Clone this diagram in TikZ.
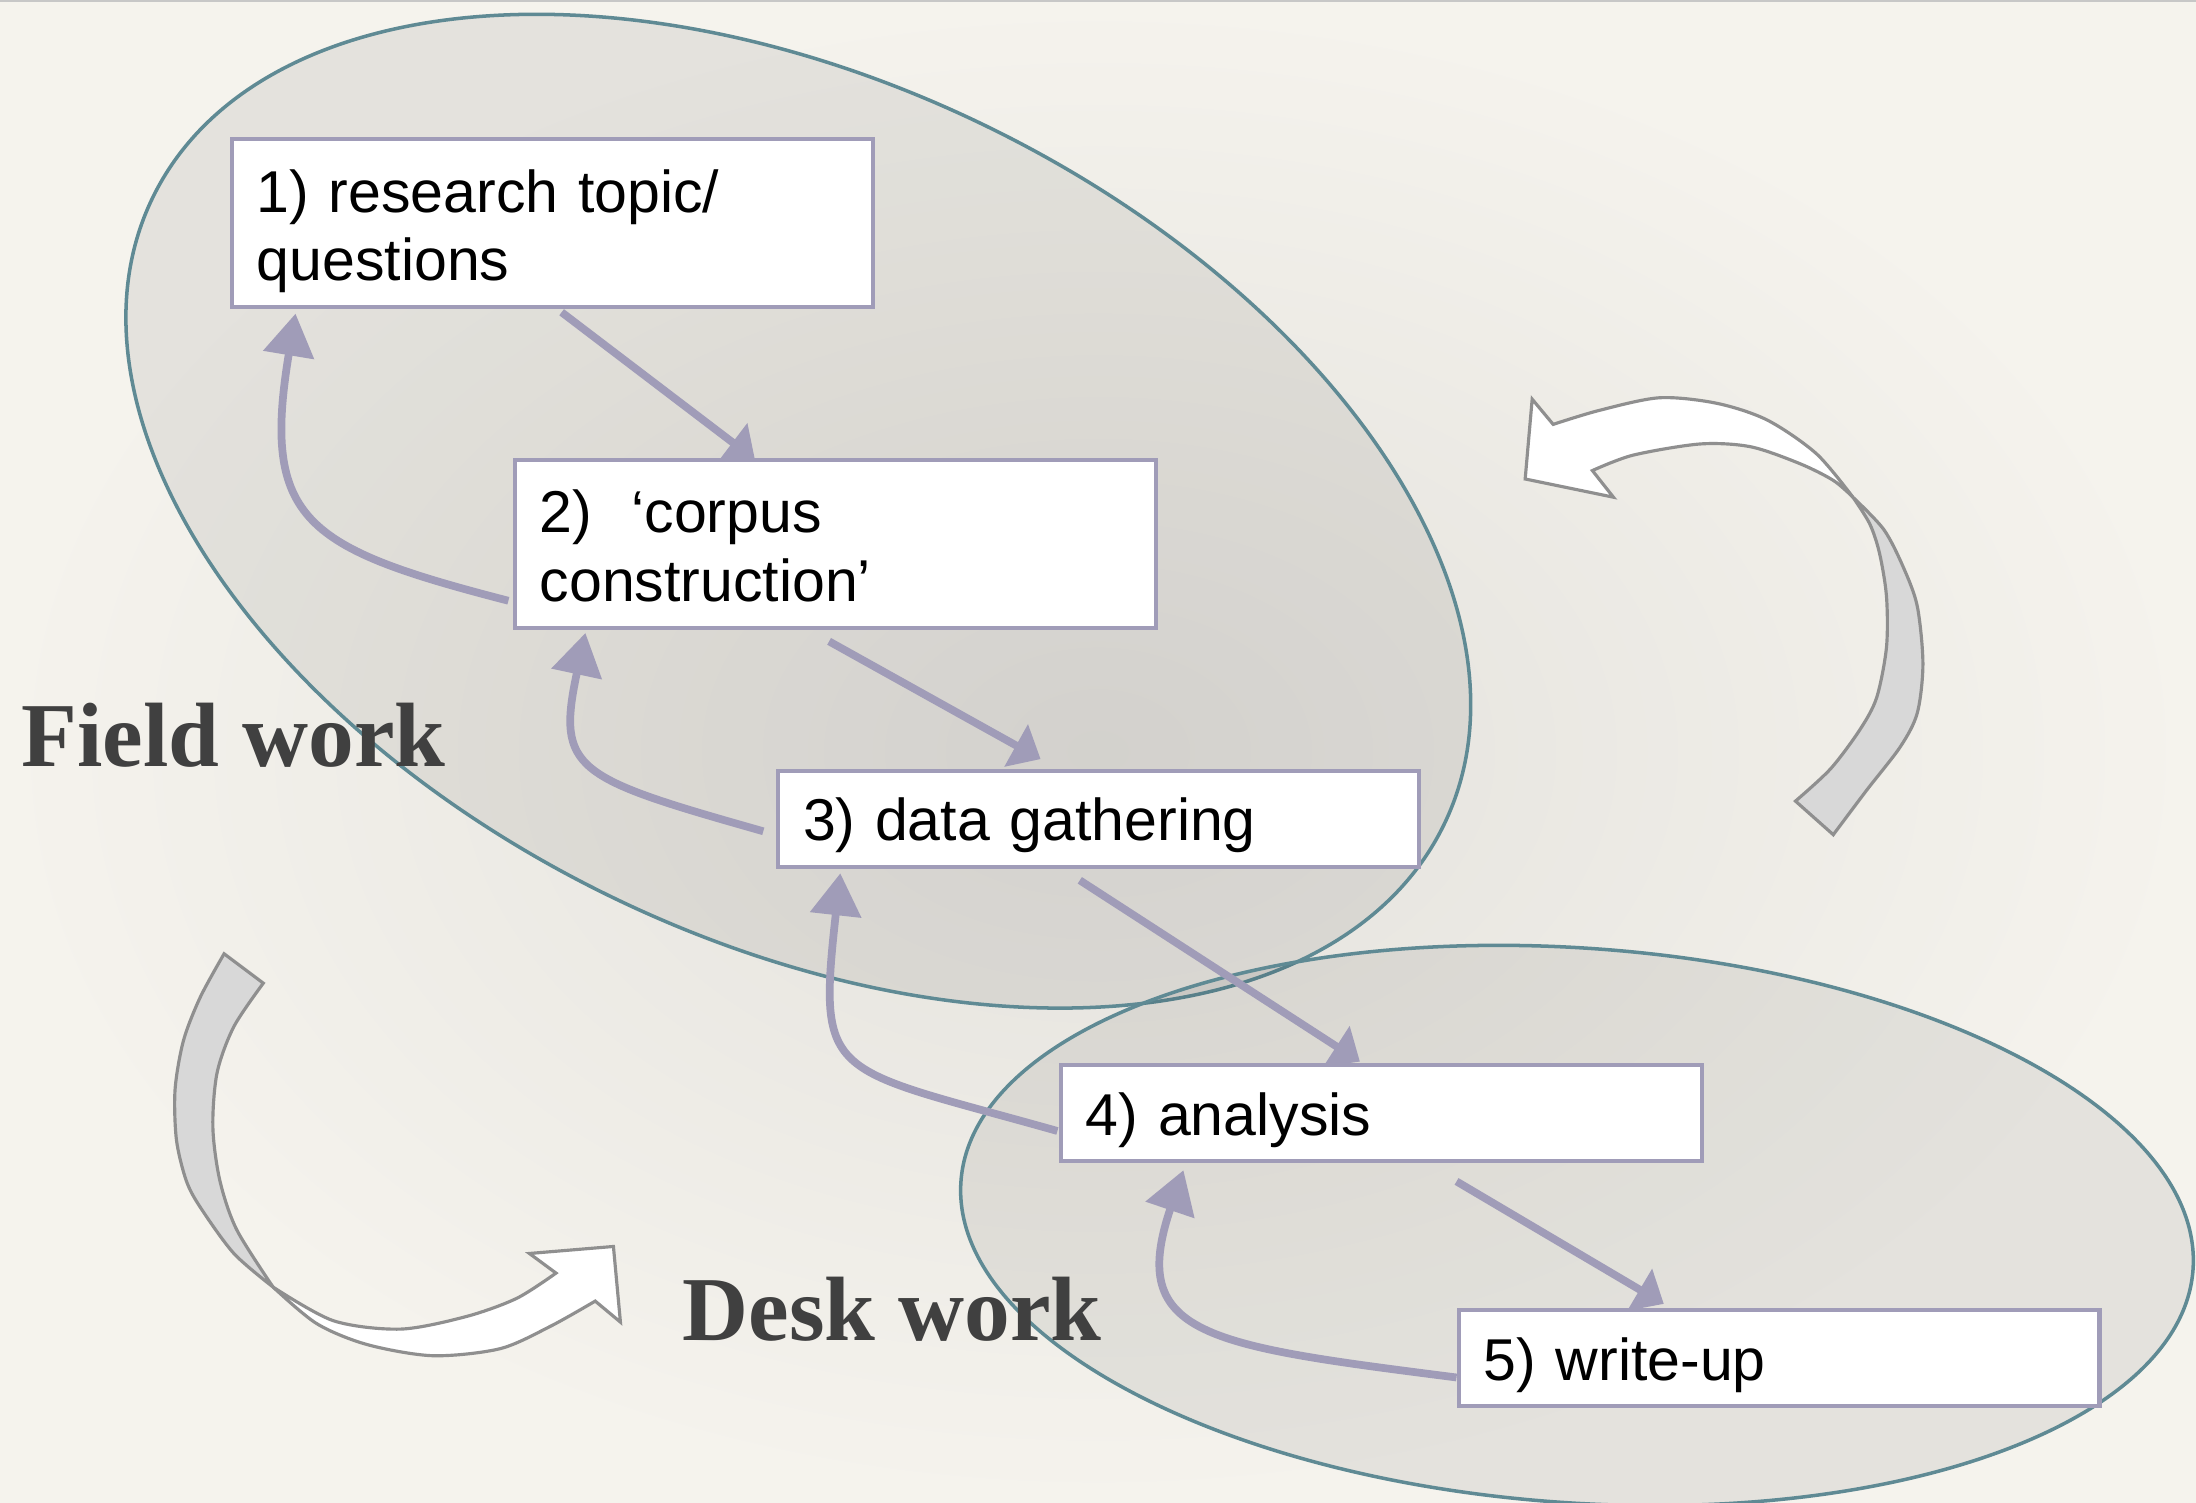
\documentclass[tikz,border=0pt]{standalone}
\usepackage{fontspec}
\setmainfont{Liberation Sans}
\newfontfamily\zonefont{Liberation Serif}
\usepackage{xcolor}
\usepackage{tikz}
\usetikzlibrary{arrows.meta, calc}
\definecolor{slidecream}{HTML}{F5F3ED}
\definecolor{slidegray}{HTML}{E3E1DC}
\definecolor{ringteal}{HTML}{5F8A94}
\definecolor{flowlilac}{HTML}{A09CB8}
\definecolor{bandgray}{HTML}{D8D8D8}
\definecolor{bandline}{HTML}{8F8F8F}
\definecolor{zonetext}{HTML}{404040}

\begin{document}
\begin{tikzpicture}[x=0.014cm, y=-0.014cm,
    zone/.style={draw=ringteal, line width=1pt, fill=black, fill opacity=0.065},
    stepbox/.style={draw=flowlilac, line width=1.2pt, fill=white, anchor=north west,
      inner xsep=0.25cm, inner ysep=0pt, text width=5.91cm, align=left,
      font=\fontsize{16.8}{19.5}\selectfont},
    tallbox/.style={stepbox, text height=0.728cm, text depth=0.952cm},
    flatbox/.style={stepbox, text height=0.70cm, text depth=0.26cm},
    forward/.style={draw=flowlilac, line width=2.2pt, -{Triangle[length=0.28cm, width=0.47cm]}},
    backward/.style={draw=flowlilac, line width=2.2pt, -{Triangle[length=0.42cm, width=0.5cm]}},
    band/.style={draw=bandline, line width=0.9pt},
    zonelabel/.style={anchor=base west, inner sep=0pt, text=zonetext,
      font=\zonefont\bfseries\fontsize{26}{30}\selectfont}]

    \shade[inner color=slidegray, outer color=slidecream] (0,0) rectangle (1568,1073);
    \useasboundingbox (0,0) rectangle (1568,1073);
    \draw[black!22, line width=0.6pt] (0,0.6) -- (1568,0.6);

    \draw[zone, shift={(570,365)}, rotate=-25.9] (0,0) ellipse [x radius=512.5, y radius=306];
    \draw[zone, shift={(1126,875)}, rotate=-4.1] (0,0) ellipse [x radius=441, y radius=198];

    \draw[band, fill=bandgray] plot[smooth] coordinates {(1323,355) (1345,378) (1359,405) (1369,433) (1373,474) (1369,509) (1357,533) (1333,564) (1309,596)}
      -- plot[smooth] coordinates {(1282,572) (1307,549) (1328,521) (1340,498) (1347,462) (1347,426) (1342,395) (1335,374) (1323,355)} -- cycle;
    \draw[band, fill=white] plot[smooth] coordinates {(1323,355) (1297,324) (1262,300) (1226,288) (1185,284) (1142,293) (1109,303)}
      -- (1094,285) -- (1089,342) -- (1152,355) -- (1137,336)
      -- plot[smooth] coordinates {(1137,336) (1166,325) (1214,317) (1250,319) (1285,331) (1309,343) (1323,355)} -- cycle;

    \draw[band, fill=bandgray] plot[smooth] coordinates {(160,681) (143,712) (131,743) (125,778) (126,814) (133,843) (143,862) (167,895) (195,919)}
      -- plot[smooth] coordinates {(195,919) (169,878) (157,843) (152,805) (155,766) (167,733) (188,702)} -- cycle;
    \draw[band, fill=white] plot[smooth] coordinates {(195,919) (226,945) (262,960) (309,968) (357,963) (393,947) (425,929)}
      -- (443,944) -- (438,890) -- (378,895) -- (397,909)
      -- plot[smooth] coordinates {(397,909) (369,927) (333,940) (286,949) (238,943) (195,919)} -- cycle;

    \node[zonelabel] (fieldlabel) at (15,547) {Field work};
    \node[zonelabel] (desklabel) at (487,957) {Desk work};

    \node[tallbox] (topic) at (164,98) {1) research topic/\\questions};
    \node[tallbox] (corpus) at (366,327) {2)\ \ ‘corpus\\construction’};
    \node[flatbox] (gather) at (554,549) {3) data gathering};
    \node[flatbox] (analysis) at (756,759) {4) analysis};
    \node[flatbox] (writeup) at (1040,934) {5) write-up};

    \draw[forward] ($(topic.south west)+(237,2)$) -- ($(corpus.north west)+(173,1)$);
    \draw[forward] ($(corpus.south west)+(226,8)$) -- ($(gather.north west)+(189,-7)$);
    \draw[forward] ($(gather.south west)+(217,8)$) -- ($(analysis.north west)+(215,-1)$);
    \draw[forward] ($(analysis.south west)+(284,13)$) -- ($(writeup.north west)+(148,-3)$);

    \draw[backward] ($(corpus.south west)+(-3,-21)$) .. controls +(-145,-37.5) and +(-24.6,147.9) .. ($(topic.south west)+(47,3)$);
    \draw[backward] ($(gather.south west)+(-9,-27)$) .. controls +(-134.7,-38.2) and +(-21,98) .. ($(corpus.south west)+(52,2)$);
    \draw[backward] ($(analysis.south west)+(-1,-23)$) .. controls +(-163.5,-46.2) and +(-16.6,149.1) .. ($(gather.south west)+(46,3)$);
    \draw[backward] ($(writeup.south west)+(0,-22)$) .. controls +(-178.6,-22.9) and +(-40.2,118.4) .. ($(analysis.south west)+(89,5)$);
  \end{tikzpicture}
\end{document}
